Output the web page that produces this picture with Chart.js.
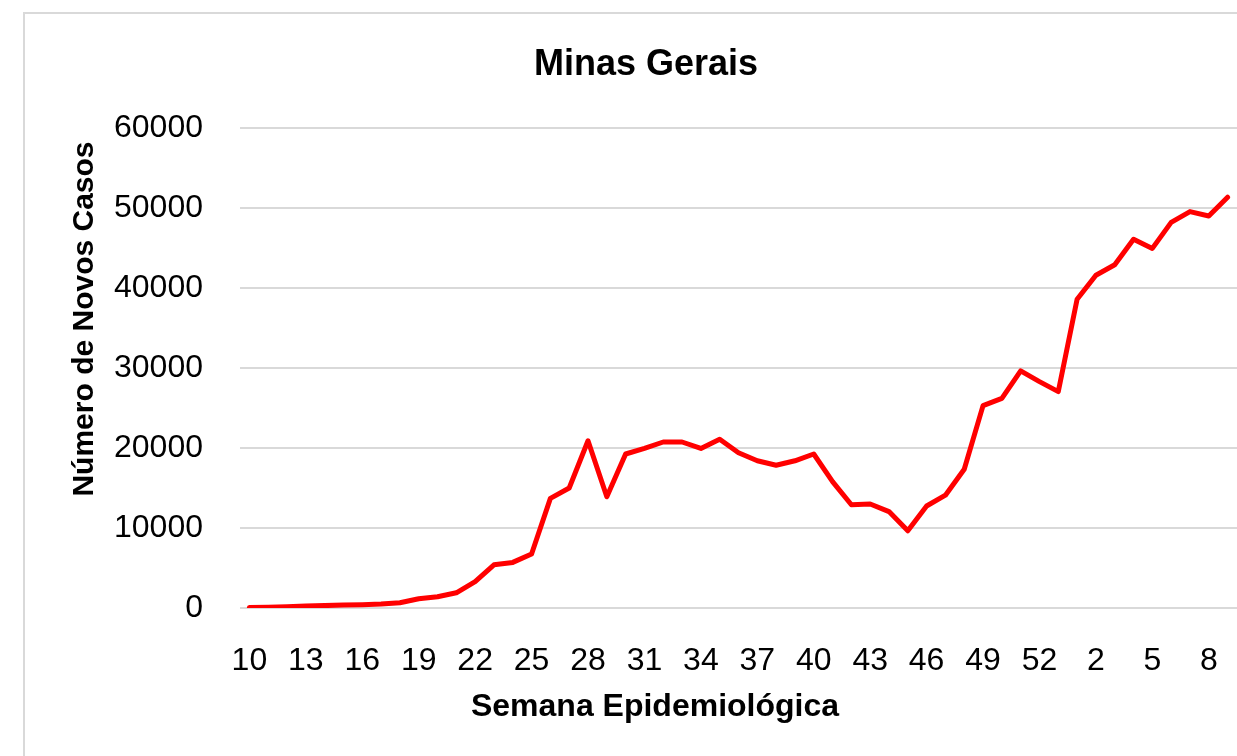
<!doctype html>
<html>
<head>
<meta charset="utf-8">
<title>Minas Gerais</title>
<script src="https://cdn.jsdelivr.net/npm/chart.js@4"></script>
<style>
  html, body { margin: 0; padding: 0; background: #fff; overflow: hidden; }
  #wrap { position: relative; width: 1237px; height: 756px; }
  #frame { position: absolute; left: 23px; top: 12px; width: 1240px; height: 760px;
           border-left: 2px solid #d9d9d9; border-top: 2px solid #d9d9d9; }
  #chart { position: absolute; left: 0; top: 0; }
</style>
</head>
<body>
<div id="wrap">
  <div id="frame"></div>
  <canvas id="chart" width="1237" height="756"></canvas>
</div>
<script>
// semanas epidemiológicas: 10..53 de 2020, depois 1..9 de 2021
const weeks = [10, 11, 12, 13, 14, 15, 16, 17, 18, 19, 20, 21, 22, 23, 24, 25, 26, 27, 28, 29,
  30, 31, 32, 33, 34, 35, 36, 37, 38, 39, 40, 41, 42, 43, 44, 45, 46, 47, 48, 49,
  50, 51, 52, 53, 1, 2, 3, 4, 5, 6, 7, 8, 9];

const newCases = [50, 100, 150, 250, 300, 380, 420, 500, 650, 1150, 1400, 1900, 3300, 5400, 5700, 6750,
  13700, 15000, 20900, 13900, 19250, 19950, 20750, 20750, 19950, 21100, 19400, 18400, 17850, 18400,
  19250, 15800, 12900, 13000, 12050, 9650, 12750, 14100, 17350, 25300, 26200, 29650, 28300, 27050,
  38600, 41600, 42900, 46100, 44950, 48200, 49550, 49000, 51350];

const yTicks = [0, 10000, 20000, 30000, 40000, 50000, 60000];

const chartTitle = 'Minas Gerais';
const xTitle = 'Semana Epidemiológica';
const yTitle = 'Número de Novos Casos';

const FONT = "'Liberation Sans', Arial, sans-serif";

// titles placed like the Excel original (not centred on the plot area)
const textPlugin = {
  id: 'excelTitles',
  afterDraw(chart) {
    const ctx = chart.ctx;
    ctx.save();
    ctx.fillStyle = '#000';
    ctx.textAlign = 'center';
    ctx.textBaseline = 'alphabetic';
    ctx.font = 'bold 36px ' + FONT;
    ctx.fillText(chartTitle, 646, 75);
    ctx.font = 'bold 32px ' + FONT;
    ctx.fillText(xTitle, 655, 716);
    ctx.translate(93, 319);
    ctx.rotate(-Math.PI / 2);
    ctx.font = 'bold 30px ' + FONT;
    ctx.fillText(yTitle, 0, 0);
    ctx.restore();
  }
};

new Chart(document.getElementById('chart'), {
  type: 'line',
  data: {
    labels: weeks,
    datasets: [{
      label: 'Novos Casos',
      data: newCases,
      borderColor: '#ff0000',
      backgroundColor: '#ff0000',
      borderWidth: 5,
      pointRadius: 0,
      tension: 0,
      borderJoinStyle: 'round',
      borderCapStyle: 'round'
    }]
  },
  options: {
    responsive: false,
    animation: false,
    layout: { padding: { top: 128, left: 0, right: 0, bottom: 0 } },
    plugins: {
      legend: { display: false },
      title: { display: false },
      tooltip: { enabled: false }
    },
    scales: {
      x: {
        offset: true,
        grid: { display: false },
        border: { display: false },
        ticks: {
          autoSkip: false,
          maxRotation: 0,
          padding: 26,
          color: '#000',
          font: { family: FONT, size: 32 },
          callback: function (v, i) { return i % 3 === 0 ? this.getLabelForValue(v) : ''; }
        },
        afterFit(scale) {
          scale.height = 148;
          scale.paddingLeft = 0;
          scale.paddingRight = 0;
        }
      },
      y: {
        min: yTicks[0],
        max: yTicks[yTicks.length - 1],
        afterBuildTicks(scale) { scale.ticks = yTicks.map(v => ({ value: v })); },
        grid: { color: '#d9d9d9', lineWidth: 2, drawTicks: false },
        border: { display: false },
        ticks: {
          padding: 37,
          color: '#000',
          font: { family: FONT, size: 32 },
          callback: v => String(v)
        },
        afterFit(scale) {
          scale.width = 240;
          scale.paddingTop = 0;
          scale.paddingBottom = 0;
        }
      }
    }
  },
  plugins: [textPlugin]
});
</script>
</body>
</html>
